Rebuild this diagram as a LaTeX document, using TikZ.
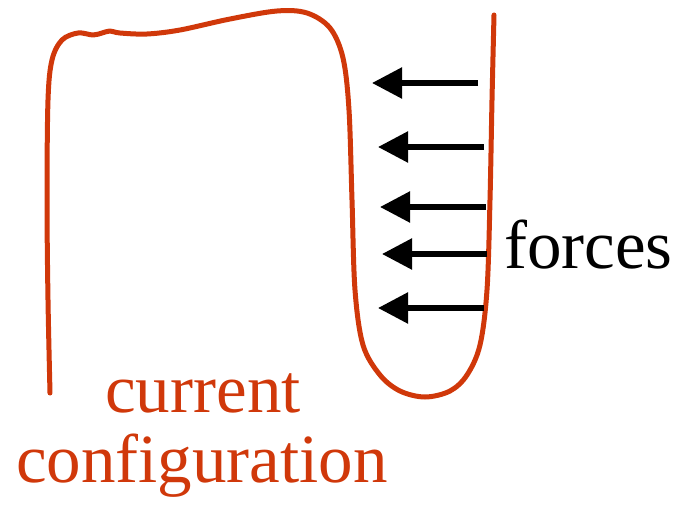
\documentclass[tikz,border=0pt]{standalone}
\usepackage{fontspec}
\setmainfont{Liberation Serif}
\usetikzlibrary{arrows.meta}
\definecolor{rust}{RGB}{208,56,10}
\tikzset{
  force/.style={line width=5.5pt, -{Triangle[length=30pt,width=30pt]}},
  body/.style={draw=rust, line width=5pt, line cap=round, line join=round},
  bigtext/.style={font=\fontsize{69}{71}\selectfont, inner sep=0pt, anchor=base}
}
\begin{document}
\begin{tikzpicture}[x=1pt,y=-1pt]
\useasboundingbox (0,0) rectangle (675,511);
\draw[body] plot[smooth, tension=0.55] coordinates {
 (50,393) (48,300) (47,200) (48,100) (52,60) (62,40) (78,33) (93,35) (102,33) (110,31) (120,33) (147,34) (180,30) (230,19) (277,11) (307,13) (330,28) (343,58) (349,110) (352,200) (355,290) (363,345) (380,375) (400,391) (425,397) (450,391) (467,375) (480,345) (487,290) (490,200) (492,100) (494,15)};
\coordinate (t1) at (478,83);  \coordinate (h1) at (372,83);
\coordinate (t2) at (484,147); \coordinate (h2) at (378,147);
\coordinate (t3) at (486,207); \coordinate (h3) at (380,207);
\coordinate (t4) at (487,254); \coordinate (h4) at (382,254);
\coordinate (t5) at (484,308); \coordinate (h5) at (378,308);
\foreach \i in {1,...,5}{\draw[force] (t\i) -- (h\i);}
\node[bigtext, anchor=base west] (forces) at (504,268) {forces};
\node[bigtext, text=rust] (cur) at (203,412) {current};
\node[bigtext, text=rust] (conf) at (202,482) {configuration};
\end{tikzpicture}
\end{document}
